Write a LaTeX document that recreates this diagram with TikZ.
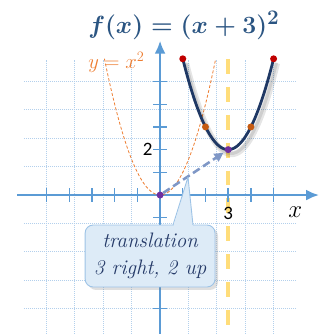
\documentclass[tikz,border=0pt]{standalone}
\usepackage{fontspec}
\newfontfamily\calib{Carlito}
\usetikzlibrary{arrows.meta,shadows,calc}
\definecolor{gridc}{HTML}{B3D0EC}
\definecolor{axisc}{HTML}{5B9BD5}
\definecolor{navyc}{HTML}{1F3864}
\definecolor{titlec}{HTML}{2B5582}
\definecolor{orangec}{HTML}{ED7D31}
\definecolor{yellowc}{HTML}{FFDD7A}
\definecolor{arrowc}{HTML}{7F97C6}
\definecolor{purplec}{HTML}{7030A0}
\definecolor{dotorange}{HTML}{C55A11}
\definecolor{dotred}{HTML}{C00000}
\definecolor{callfill}{HTML}{DDEBF7}
\definecolor{callborder}{HTML}{9DC3E6}
\definecolor{textc}{HTML}{253A68}
\begin{document}
\begin{tikzpicture}[x=0.8cm,y=0.8cm,
  gridline/.style={gridc, line width=1pt, densely dotted},
  yline/.style={yellowc, line width=3.5pt, dash pattern=on 15pt off 13pt},
  axisline/.style={axisc, line width=2.4pt},
  tickline/.style={axisc, line width=1.4pt},
  basecurve/.style={orangec, line width=0.8pt, dash pattern=on 3pt off 2pt},
  mainpar/.style={navyc, line width=2.8pt},
  parshadow/.style={black, opacity=0.1, line width=6pt},
  dotnode/.style={circle, fill=#1, inner sep=0pt, minimum size=7pt},
  transarrow/.style={arrowc, line width=2.6pt, dash pattern=on 8pt off 4pt, -{Triangle[length=9pt,width=9pt]}, shorten >=2pt},
  callbox/.style={fill=callfill, draw=callborder, line width=0.9pt, rounded corners=8pt},
  numlabel/.style={font=\calib\fontsize{19}{21}\selectfont, text=black},
  titlefont/.style={font=\fontsize{28}{32}\selectfont\mathversion{bold}}
]
\useasboundingbox (-7.05,-6.12) rectangle (7.05,8.59);
% grid
\draw[gridline] (-6,-6.2) grid (6,6);
% yellow symmetry line
\coordinate (yt) at (3,6);
\coordinate (yb) at (3,-6.2);
\draw[yline] (yt) -- (yb);
% axes
\coordinate (xl) at (-6.3,0);
\coordinate (xr) at (7.0,0);
\coordinate (ybot) at (0,-6.2);
\coordinate (ytop) at (0,6.8);
\draw[axisline, -{Latex[length=13pt,width=11pt]}] (xl) -- (xr);
\draw[axisline, -{Latex[length=13pt,width=11pt]}] (ybot) -- (ytop);
\foreach \i in {-5,...,-1,1,2,...,5} {
  \draw[tickline] (\i,-0.3) -- (\i,0.3);
  \draw[tickline] (-0.3,\i) -- (0.3,\i);
}
% base parabola
\draw[basecurve, domain=-2.45:2.45, samples=80] plot (\x,{\x*\x});
% translated parabola with shadow
\draw[parshadow, domain=1:5, samples=60, shift={(0.15,-0.2)}] plot (\x,{(\x-3)*(\x-3)+2});
\draw[parshadow, line width=3pt, domain=1:5, samples=60, shift={(0.13,-0.17)}] plot (\x,{(\x-3)*(\x-3)+2});
\draw[mainpar, domain=1:5, samples=60] plot (\x,{(\x-3)*(\x-3)+2});
% dots
\node[dotnode=purplec] (o) at (0,0) {};
\node[dotnode=purplec] (v) at (3,2) {};
\node[dotnode=dotorange] (p1) at (2,3) {};
\node[dotnode=dotorange] (p2) at (4,3) {};
\node[dotnode=dotred] (r1) at (1,6) {};
\node[dotnode=dotred] (r2) at (5,6) {};
% translation arrow
\draw[transarrow] (o) -- (v);
% callout
\node[callbox, drop shadow={opacity=0.25, shadow xshift=3pt, shadow yshift=-3pt},
  minimum width=4.576cm, minimum height=2.184cm, align=center,
  text=textc, font=\itshape\fontsize{21}{27}\selectfont] (call) at (-0.44,-2.685)
  {translation\\3 right, 2 up};
\coordinate (ptip) at (1.23,0.79);
\coordinate (pl) at (0.57,-1.32);
\coordinate (pr) at (1.45,-1.32);
\fill[callfill] ($(pl)+(0,-0.12)$) -- (ptip) -- ($(pr)+(0,-0.12)$) -- cycle;
\draw[callborder, line width=0.9pt, line join=round] (pl) -- (ptip) -- (pr);
% labels
\node[numlabel] (l2) at (-0.55,2) {2};
\node[numlabel] (l3) at (3,-0.8) {3};
\node[font=\fontsize{24}{26}\selectfont] (lx) at (5.95,-0.75) {$x$};
\node[text=orangec, font=\fontsize{21}{24}\selectfont, anchor=west, inner sep=0pt] (ly) at (-3.17,5.85) {$y=x^2$};
\node[text=titlec, titlefont, anchor=west, inner sep=0pt] (title) at (-3.17,7.45) {$f(x)=(x+3)^2$};
\end{tikzpicture}
\end{document}
